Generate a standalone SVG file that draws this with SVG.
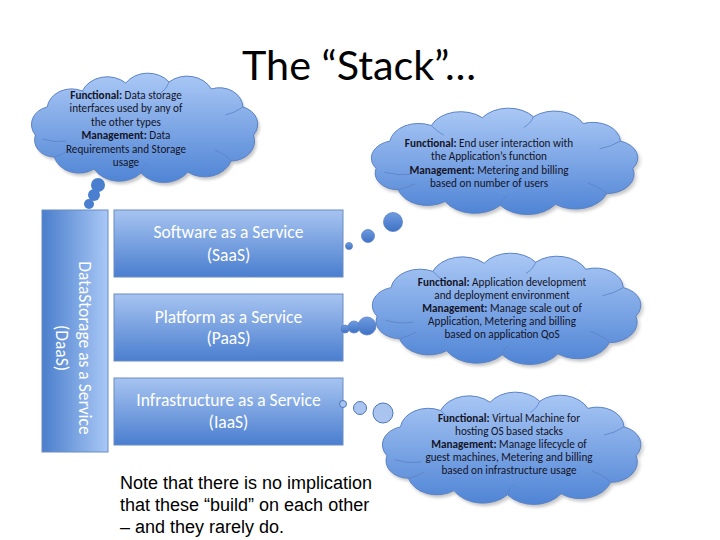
<svg xmlns="http://www.w3.org/2000/svg" xmlns:xlink="http://www.w3.org/1999/xlink" width="720" height="540" viewBox="0 0 720 540">
<style>
.title{font-family:Lato,"Liberation Sans",sans-serif;font-size:40px;fill:#000;text-anchor:middle}
.ct{font-family:Carlito,Lato,"Liberation Sans",sans-serif;font-size:11.2px;fill:#141428;text-anchor:middle}
.ct .b{font-weight:bold}
.bt{font-family:Carlito,Lato,"Liberation Sans",sans-serif;font-size:17.5px;fill:#fff;text-anchor:middle}
.note{font-family:"Liberation Sans",Arial,sans-serif;font-size:18px;fill:#000}
.box{fill:url(#boxg);stroke:#6b8cc0;stroke-width:1}
.cloud{fill:url(#cloudg);stroke:#5a82c6;stroke-width:1}
.shadow{fill:#000;opacity:.22;filter:url(#blur)}
.crease{fill:none;stroke:#5a82c6;stroke-width:0.8}
.bub{fill:url(#bubg);stroke:#5a82c6;stroke-width:0.8}
.bubl{fill:#a9c4ef;stroke:#4a76c0;stroke-width:1}
</style>
<defs>
<linearGradient id="boxg" x1="0" y1="0" x2="0" y2="1">
<stop offset="0" stop-color="#a7c4f1"/>
<stop offset="1" stop-color="#4a7ecf"/>
</linearGradient>
<linearGradient id="daasg" x1="0" y1="0" x2="1" y2="0">
<stop offset="0" stop-color="#4a7ecc"/>
<stop offset="1" stop-color="#a9c8f6"/>
</linearGradient>
<linearGradient id="cloudg" x1="0" y1="0" x2="0" y2="1">
<stop offset="0" stop-color="#aac8f5"/>
<stop offset="1" stop-color="#4f84d5"/>
</linearGradient>
<linearGradient id="bubg" x1="0" y1="0" x2="0" y2="1">
<stop offset="0" stop-color="#6f9be0"/>
<stop offset="1" stop-color="#3f72c4"/>
</linearGradient>
<filter id="blur" x="-10%" y="-10%" width="120%" height="120%"><feGaussianBlur stdDeviation="1.5"/></filter>
<path id="cloud" vector-effect="non-scaling-stroke" d="M 8,58 A 18,18 0 0 1 18,30 A 21,21 0 0 1 48,14 A 23,23 0 0 1 85,6 A 23,23 0 0 1 122,5 A 23,23 0 0 1 158,12 A 20,20 0 0 1 185,30 A 18,18 0 0 1 194,58 A 20,20 0 0 1 175,84 A 24,24 0 0 1 138,95 A 25,25 0 0 1 98,96 A 25,25 0 0 1 58,92 A 22,22 0 0 1 24,80 A 17,17 0 0 1 8,58 Z"/>
<path id="creases" vector-effect="non-scaling-stroke" d="M 14,62 Q 24,66 34,64 M 48,14 Q 52,20 57,24 M 122,5 Q 120,12 115,16 M 185,30 Q 178,36 170,38 M 175,84 Q 170,77 161,73 M 98,96 Q 99,90 103,86 M 24,80 Q 30,78 36,74"/>
</defs>
<rect width="720" height="540" fill="#fff"/>
<text class="title" x="359" y="80" textLength="234" lengthAdjust="spacingAndGlyphs">The “Stack”…</text>

<g id="daas">
<rect x="42" y="210" width="66" height="242" fill="url(#daasg)" stroke="#6b8cc0"/>
<text class="bt" transform="translate(74,348) rotate(90)"><tspan x="0" y="-5">DataStorage as a Service</tspan><tspan x="0" y="18">(DaaS)</tspan></text>
</g>
<g id="saas">
<rect class="box" x="114" y="210" width="229" height="67"/>
<text class="bt" x="228.5" y="238">Software as a Service</text>
<text class="bt" x="228.5" y="261">(SaaS)</text>
</g>
<g id="paas">
<rect class="box" x="114" y="294" width="229" height="67"/>
<text class="bt" x="228.5" y="323">Platform as a Service</text>
<text class="bt" x="228.5" y="344">(PaaS)</text>
</g>
<g id="iaas">
<rect class="box" x="114" y="378" width="229" height="67"/>
<text class="bt" x="228.5" y="406">Infrastructure as a Service</text>
<text class="bt" x="228.5" y="428">(IaaS)</text>
</g>

<g id="connectors">
<g id="tail-daas">
<circle cx="98" cy="185" r="7" fill="#4a7fd0"/>
<circle cx="94" cy="195" r="6" fill="#4a7fd0"/>
<circle cx="89" cy="204" r="5" fill="#4a7fd0"/>
</g>
<g id="tail-saas">
<circle class="bub" cx="393" cy="222" r="9.5"/>
<circle class="bub" cx="368" cy="236" r="6.5"/>
<circle class="bub" cx="349" cy="246" r="3.5"/>
</g>
<g id="tail-paas">
<circle class="bub" cx="345" cy="329" r="4"/>
<circle class="bub" cx="354" cy="327" r="6"/>
<circle class="bub" cx="367" cy="326" r="9"/>
</g>
<g id="tail-iaas">
<circle class="bubl" cx="343" cy="404" r="3.5"/>
<circle class="bubl" cx="360" cy="408" r="6.5"/>
<circle class="bubl" cx="383" cy="413" r="10"/>
</g>
</g>

<g id="cloud-daas">
<use href="#cloud" class="shadow" transform="translate(28.1,80) scale(1.172,1)"/>
<use href="#cloud" class="cloud" transform="translate(26.1,77) scale(1.172,1)"/>
<use href="#creases" class="crease" transform="translate(26.1,77) scale(1.172,1)"/>
<text class="ct"><tspan x="126" y="98.5"><tspan class="b">Functional:</tspan> Data storage</tspan><tspan x="126" y="112">interfaces used by any of</tspan><tspan x="126" y="125.5">the other types</tspan><tspan x="126" y="139"><tspan class="b">Management:</tspan> Data</tspan><tspan x="126" y="152.5">Requirements and Storage</tspan><tspan x="126" y="166">usage</tspan></text>
</g>
<g id="cloud-saas">
<use href="#cloud" class="shadow" transform="translate(367.1,114.9) scale(1.38,0.973)"/>
<use href="#cloud" class="cloud" transform="translate(365.1,111.9) scale(1.38,0.973)"/>
<use href="#creases" class="crease" transform="translate(365.1,111.9) scale(1.38,0.973)"/>
<text class="ct"><tspan x="489" y="146.5"><tspan class="b">Functional:</tspan> End user interaction with</tspan><tspan x="489" y="160">the Application’s function</tspan><tspan x="489" y="173.5"><tspan class="b">Management:</tspan> Metering and billing</tspan><tspan x="489" y="187">based on number of users</tspan></text>
</g>
<g id="cloud-paas">
<use href="#cloud" class="shadow" transform="translate(368,260.1) scale(1.391,1.018)"/>
<use href="#cloud" class="cloud" transform="translate(366,257.1) scale(1.391,1.018)"/>
<use href="#creases" class="crease" transform="translate(366,257.1) scale(1.391,1.018)"/>
<text class="ct"><tspan x="502" y="285.5"><tspan class="b">Functional:</tspan> Application development</tspan><tspan x="502" y="298.5">and deployment environment</tspan><tspan x="502" y="311.5"><tspan class="b">Management:</tspan> Manage scale out of</tspan><tspan x="502" y="324.5">Application, Metering and billing</tspan><tspan x="502" y="337.5">based on application QoS</tspan></text>
</g>
<g id="cloud-iaas">
<use href="#cloud" class="shadow" transform="translate(378.3,399.1) scale(1.339,1.027)"/>
<use href="#cloud" class="cloud" transform="translate(376.3,396.1) scale(1.339,1.027)"/>
<use href="#creases" class="crease" transform="translate(376.3,396.1) scale(1.339,1.027)"/>
<text class="ct"><tspan x="509" y="421.5"><tspan class="b">Functional:</tspan> Virtual Machine for</tspan><tspan x="509" y="434.5">hosting OS based stacks</tspan><tspan x="509" y="447.5"><tspan class="b">Management:</tspan> Manage lifecycle of</tspan><tspan x="509" y="460.5">guest machines, Metering and billing</tspan><tspan x="509" y="473.5">based on infrastructure usage</tspan></text>
</g>

<g id="note">
<text class="note"><tspan x="120" y="489">Note that there is no implication</tspan><tspan x="120" y="511">that these “build” on each other</tspan><tspan x="120" y="533">– and they rarely do.</tspan></text>
</g>
</svg>
